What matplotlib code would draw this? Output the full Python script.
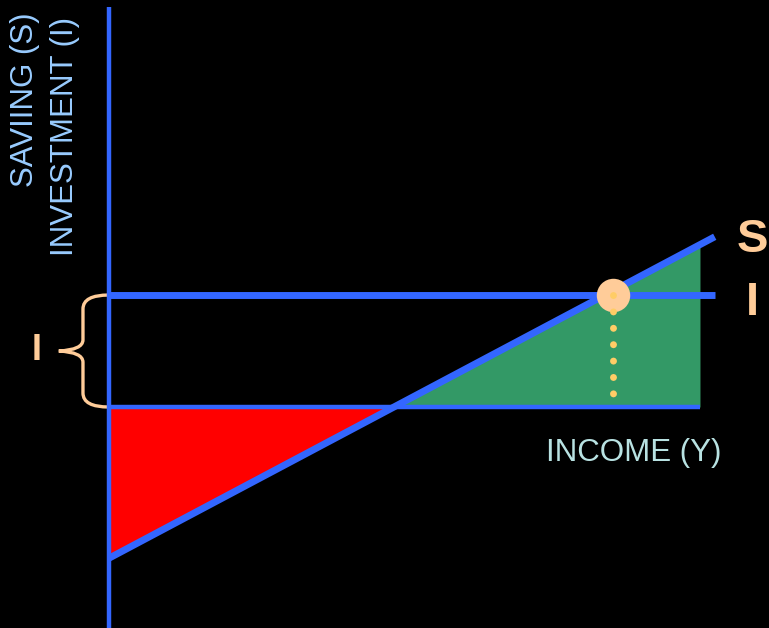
import numpy as np
import matplotlib.pyplot as plt
from matplotlib.path import Path
from matplotlib.patches import PathPatch

plt.rcParams['font.family'] = ['Liberation Sans', 'DejaVu Sans']

# saving line S = a + b*Y
income = [0, 10.25]
saving = [-2.70, 3.04]
investment = 2.0
# shaded area stops at Y = 10
fill_income = [0, 10.0]
fill_saving = [-2.70, 2.91]
axis_income = [0, 10.0]
axis_top = 7.14
equilibrium_income = 8.53
dots_bottom = 0.18

blue = '#3366ff'
peach = '#ffcc99'

fig = plt.figure(figsize=(7.69, 6.28), dpi=100, facecolor='black')
ax = fig.add_axes([0, 0, 1, 1])
ax.set_facecolor('black')
ax.set_xlim(-1.844, 11.168)
ax.set_ylim(-3.946, 7.268)
ax.axis('off')

fs = np.array(fill_saving)
ax.fill_between(fill_income, fs, 0, where=fs <= 0, interpolate=True, color='#ff0000', lw=0)
ax.fill_between(fill_income, fs, 0, where=fs >= 0, interpolate=True, color='#339966', lw=0)

# axes
ax.plot([0, 0], [-3.946, axis_top], color=blue, lw=3.2, solid_capstyle='butt')
ax.plot(axis_income, [0, 0], color=blue, lw=3.2, solid_capstyle='butt')
# I and S
ax.plot([0, income[-1]], [investment, investment], color=blue, lw=5, solid_capstyle='butt')
ax.plot(income, saving, color=blue, lw=5, solid_capstyle='butt')

ax.scatter([equilibrium_income], [investment], s=580, color=peach, zorder=5, lw=0)
ax.plot([equilibrium_income, equilibrium_income], [investment, dots_bottom],
        color='#ffcc66', lw=5, linestyle=(0, (0.01, 2.35)), dash_capstyle='round', zorder=6)

# curly brace between 0 and I
x0, x1, x2 = 0.0, -0.44, -0.85
mid = investment / 2
verts = [(x0, investment), (x1, investment), (x1, investment - 0.25),
         (x1, mid + 0.2),
         (x1, mid + 0.02), (x2, mid),
         (x1, mid - 0.02), (x1, mid - 0.2),
         (x1, 0.25),
         (x1, 0), (x0, 0)]
codes = [Path.MOVETO, Path.CURVE3, Path.CURVE3,
         Path.LINETO,
         Path.CURVE3, Path.CURVE3,
         Path.CURVE3, Path.CURVE3,
         Path.LINETO,
         Path.CURVE3, Path.CURVE3]
ax.add_patch(PathPatch(Path(verts, codes), fill=False, edgecolor=peach, lw=2.4, zorder=1))


def px(x, y):
    return x / 769, 1 - y / 628


fig.text(*px(25, 187), 'SAVIING (S)', rotation=90, ha='center', va='bottom',
         color='#99ccff', fontsize=22.5)
fig.text(*px(65, 256), 'INVESTMENT (I)', rotation=90, ha='center', va='bottom',
         color='#99ccff', fontsize=22.5)
fig.text(*px(546, 453), 'INCOME (Y)', ha='left', va='center', color='#b8e2e2', fontsize=22.5)
fig.text(*px(752, 240), 'S', ha='center', va='center', color=peach, fontsize=34, fontweight='bold')
fig.text(*px(752, 303), 'I', ha='center', va='center', color=peach, fontsize=34, fontweight='bold')
fig.text(*px(37, 351), 'I', ha='center', va='center', color=peach, fontsize=26, fontweight='bold')

fig.savefig('out.png', dpi=100, facecolor='black')
